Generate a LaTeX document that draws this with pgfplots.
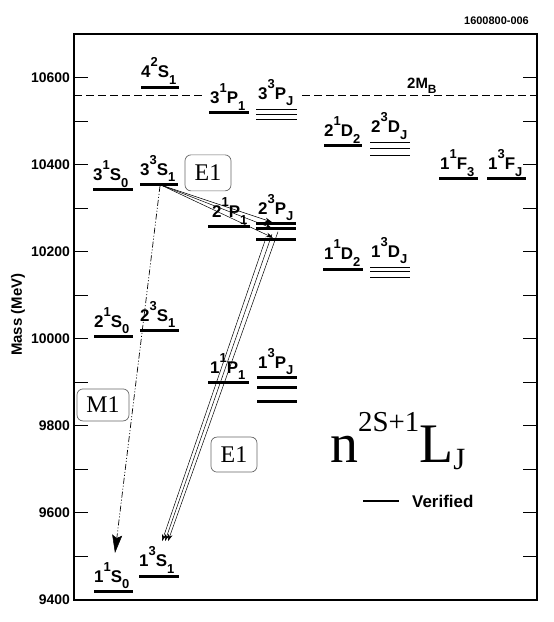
\documentclass[border=0pt]{standalone}
\usepackage{fontspec}
\setmainfont{Liberation Sans}
\newfontfamily\tms{Liberation Serif}
\usepackage{pgfplots}
\pgfplotsset{compat=1.18}
\usetikzlibrary{arrows.meta}

% level label: n ^{2S+1} L _J
\newcommand\st[4]{#1\raisebox{11bp}{\fontsize{13}{13}\selectfont #2}#3\raisebox{-6.5bp}{\fontsize{13}{13}\selectfont #4}}

\tikzset{
  lv/.style={black, line width=3bp},
  tn/.style={black, line width=0.9bp},
  lab/.style={anchor=south west, inner sep=0pt, yshift=2.5bp, font=\fontsize{17}{17}\selectfont\bfseries},
  e1/.style={black, line width=0.5bp, -{Stealth[length=7bp,width=4.5bp]}},
  m1/.style={black, line width=0.7bp, dash pattern=on 6bp off 2bp on 1bp off 2bp on 1bp off 2bp,
             -{Stealth[length=18bp,width=10bp,inset=3bp,line width=0.5bp,fill=black]}},
  box/.style={draw=black!60, line width=0.7bp, rounded corners=6bp, inner sep=0pt,
              font=\tms\fontsize{24}{24}\selectfont},
}

\begin{document}
\begin{tikzpicture}
\begin{axis}[
  width=463bp, height=566bp, scale only axis,
  xmin=74, xmax=537, ymin=9400, ymax=10700,
  xtick=\empty,
  ytick={9400,9600,...,10600},
  minor ytick={9500,9700,...,10500},
  scaled y ticks=false,
  tick align=inside,
  major tick length=14bp, minor tick length=14bp,
  tick style={line width=1bp, black},
  axis line style={line width=2bp},
  clip=false,
  /pgf/number format/1000 sep={},
  /pgf/number format/assume math mode=true,
  yticklabel style={font=\fontsize{14}{14}\selectfont\bfseries, inner xsep=0pt, xshift=-4bp},
  ylabel={Mass (MeV)},
  every axis y label/.style={at={(axis description cs:-0.121,0.504)}, rotate=90, anchor=center,
                             font=\fontsize{15}{15}\selectfont\bfseries},
]
\coordinate (bl) at (rel axis cs:0,0);
\coordinate (tr) at (rel axis cs:1,1);

% 2 M_B threshold
\addplot[black, line width=0.8bp, dash pattern=on 8bp off 4bp] coordinates {(74,10558)(202,10558)};
\addplot[black, line width=0.8bp, dash pattern=on 8bp off 4bp] coordinates {(302,10558)(537,10558)};
\node[lab, font=\fontsize{15}{15}\selectfont\bfseries] at (axis cs:407,10558) {2M\raisebox{-5bp}{\fontsize{12}{12}\selectfont B}};

% S waves
\addplot[lv] coordinates {(94,9419)(133,9419)};
\addplot[lv] coordinates {(139,9455)(179,9455)};
\addplot[lv] coordinates {(94,10005)(133,10005)};
\addplot[lv] coordinates {(140,10019)(179,10019)};
\addplot[lv] coordinates {(93,10342)(133,10342)};
\addplot[lv] coordinates {(140,10355)(178,10355)};
\addplot[lv] coordinates {(141,10578)(179,10578)};
\node[lab] at (axis cs:94,9419) {\st{1}{1}{S}{0}};
\node[lab] at (axis cs:139,9455) {\st{1}{3}{S}{1}};
\node[lab] at (axis cs:94,10005) {\st{2}{1}{S}{0}};
\node[lab] at (axis cs:140,10019) {\st{2}{3}{S}{1}};
\node[lab] at (axis cs:93,10342) {\st{3}{1}{S}{0}};
\node[lab] at (axis cs:140,10355) {\st{3}{3}{S}{1}};
\node[lab] at (axis cs:141,10578) {\st{4}{2}{S}{1}};

% P waves
\addplot[lv] coordinates {(208,9900)(249,9900)};
\addplot[lv] coordinates {(257,9911)(297,9911)};
\addplot[lv] coordinates {(257,9888)(297,9888)};
\addplot[lv] coordinates {(257,9857)(297,9857)};
\addplot[lv] coordinates {(208,10257)(250,10257)};
\addplot[lv] coordinates {(256,10265)(296,10265)};
\addplot[lv] coordinates {(256,10254)(296,10254)};
\addplot[lv] coordinates {(256,10227)(296,10227)};
\addplot[lv] coordinates {(209,10519)(249,10519)};
\addplot[tn] coordinates {(256,10526)(297,10526)};
\addplot[tn] coordinates {(256,10515)(297,10515)};
\addplot[tn] coordinates {(256,10503)(297,10503)};
\node[lab] at (axis cs:210,9900) {\st{1}{1}{P}{1}};
\node[lab] at (axis cs:258,9911) {\st{1}{3}{P}{J}};
\node[lab] at (axis cs:212,10257) {\st{2}{1}{P}{1}};
\node[lab] at (axis cs:258,10265) {\st{2}{3}{P}{J}};
\node[lab] at (axis cs:210,10519) {\st{3}{1}{P}{1}};
\node[lab, yshift=1bp] at (axis cs:258,10526) {\st{3}{3}{P}{J}};

% D waves
\addplot[lv] coordinates {(323,10160)(363,10160)};
\addplot[tn] coordinates {(370,10163)(410,10163)};
\addplot[tn] coordinates {(370,10154)(410,10154)};
\addplot[tn] coordinates {(370,10141)(410,10141)};
\addplot[lv] coordinates {(324,10443)(362,10443)};
\addplot[tn] coordinates {(370,10450)(410,10450)};
\addplot[tn] coordinates {(370,10436)(410,10436)};
\addplot[tn] coordinates {(370,10422)(410,10422)};
\node[lab] at (axis cs:324,10160) {\st{1}{1}{D}{2}};
\node[lab, yshift=1bp] at (axis cs:371,10163) {\st{1}{3}{D}{J}};
\node[lab] at (axis cs:324,10443) {\st{2}{1}{D}{2}};
\node[lab, yshift=1bp] at (axis cs:371,10450) {\st{2}{3}{D}{J}};

% F waves
\addplot[lv] coordinates {(439,10367)(478,10367)};
\addplot[lv] coordinates {(487,10367)(526,10367)};
\node[lab] at (axis cs:440,10367) {\st{1}{1}{F}{3}};
\node[lab] at (axis cs:488,10367) {\st{1}{3}{F}{J}};

% transitions
\addplot[m1] coordinates {(160,10351)(115,9508)};
\addplot[e1] coordinates {(161,10353)(272,10268)};
\addplot[e1] coordinates {(161,10353)(272,10254)};
\addplot[e1] coordinates {(161,10353)(273,10232)};
\addplot[e1] coordinates {(266,10232)(162,9535)};
\addplot[e1] coordinates {(272,10240)(165,9535)};
\addplot[e1] coordinates {(278,10246)(168,9535)};

\node[box, minimum width=46bp, minimum height=36bp] at (axis cs:208,10381) {E1};
\node[box, minimum width=46bp, minimum height=35bp] at (axis cs:234,9734) {E1};
\node[box, minimum width=52bp, minimum height=32bp] at (axis cs:103,9848) {M1};

% notation and legend
\node[anchor=base west, inner sep=0pt, font=\tms\fontsize{56}{56}\selectfont] at (axis cs:330,9715)
  {n\raisebox{31bp}{\fontsize{29}{29}\selectfont 2S+1}L\raisebox{-7bp}{\fontsize{31}{31}\selectfont J}};
\addplot[black, line width=2.5bp] coordinates {(363,9627)(399,9627)};
\node[anchor=west, inner sep=0pt, font=\fontsize{17}{17}\selectfont\bfseries] at (axis cs:412,9627) {Verified};

\node[anchor=east, inner sep=0pt, font=\fontsize{11}{11}\selectfont\bfseries] at (axis cs:529,10730) {1600800-006};
\end{axis}
\pgfresetboundingbox
\path ([shift={(-74bp,-22bp)}]bl) rectangle ([shift={(17bp,34bp)}]tr);
\end{tikzpicture}
\end{document}
